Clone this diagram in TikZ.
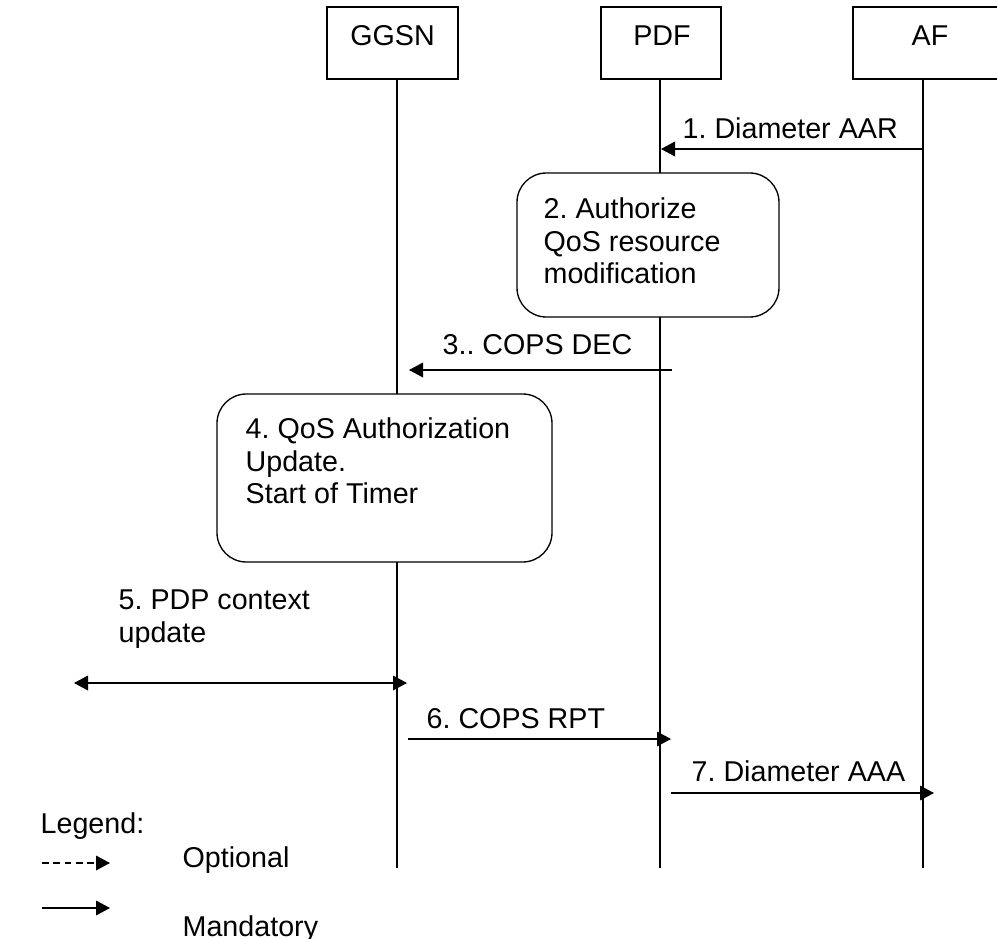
\documentclass[tikz,border=0pt]{standalone}
\usepackage{fontspec}
\setmainfont{Liberation Sans}
\usetikzlibrary{arrows.meta}
\begin{document}
\frenchspacing
\begin{tikzpicture}[x=0.75pt,y=-0.75pt,
  font=\fontsize{21.5pt}{24.5pt}\selectfont\frenchspacing,
  line width=1pt,
  entbox/.style={draw, rectangle, fill=white, inner sep=0pt, minimum height=54pt},
  procbox/.style={draw, rectangle, rounded corners=22pt, fill=white, inner sep=0pt},
  txt/.style={inner sep=0pt, align=left},
  msg/.style={-{Triangle[length=10.5pt,width=11pt]}},
  bimsg/.style={{Triangle[length=10.5pt,width=11pt]}-{Triangle[length=10.5pt,width=11pt]}},
  optmsg/.style={dash pattern=on 5pt off 3.5pt},
  lifeline/.style={draw}
]
\useasboundingbox (0,0) rectangle (997,939);
\clip (0,0) rectangle (997,939);

% lifeline end points
\coordinate (gtop) at (397,79);
\coordinate (gbot) at (397,868);
\coordinate (ptop) at (660,79);
\coordinate (pbot) at (660,868);
\coordinate (atop) at (923,79);
\coordinate (abot) at (923,868);

\draw[lifeline] (gtop) -- (gbot);
\draw[lifeline] (ptop) -- (pbot);
\draw[lifeline] (atop) -- (abot);

% entities
\node[entbox, minimum width=98.25pt] (ggsn) at (392.5,43) {};
\node[entbox, minimum width=90pt] (pdf) at (661,43) {};
\node[entbox, minimum width=115.5pt] (af) at (930,43) {};
\node[txt, anchor=base] (ggsnl) at (392.5,45) {GGSN};
\node[txt, anchor=base] (pdfl) at (662,45) {PDF};
\node[txt, anchor=base] (afl) at (930,45) {AF};

% process boxes
\node[procbox, minimum width=196.5pt, minimum height=108pt] (auth) at (648,245) {};
\node[txt, anchor=north west] (authl) at (543,197) {2. Authorize\\QoS resource\\modification};
\node[procbox, minimum width=251.25pt, minimum height=126pt] (upd) at (384.5,478) {};
\node[txt, anchor=north west] (updl) at (245,417) {4. QoS Authorization\\Update.\\Start of Timer};

% message end points
\coordinate (m1a) at (923,149); \coordinate (m1b) at (661,149);
\coordinate (m3a) at (672,370); \coordinate (m3b) at (409,370);
\coordinate (m5a) at (74,683);  \coordinate (m5b) at (407,683);
\coordinate (m6a) at (408,739); \coordinate (m6b) at (671,739);
\coordinate (m7a) at (671,793); \coordinate (m7b) at (934,793);

\draw[msg] (m1a) -- (m1b);
\draw[msg] (m3a) -- (m3b);
\draw[bimsg] (m5a) -- (m5b);
\draw[msg] (m6a) -- (m6b);
\draw[msg] (m7a) -- (m7b);

\node[txt, anchor=base west] (l1) at (682,138) {1. Diameter AAR};
\node[txt, anchor=base west] (l3) at (442,354) {3.. COPS DEC};
\node[txt, anchor=north west] (l5) at (118,589) {5. PDP context\\update};
\node[txt, anchor=base west] (l6) at (426,728) {6. COPS RPT};
\node[txt, anchor=base west] (l7) at (691,781) {7. Diameter AAA};

% legend
\node[txt, anchor=base west] (leg) at (40,833) {Legend:};
\coordinate (o1) at (42,863); \coordinate (o0) at (96,863); \coordinate (o2) at (110,863);
\coordinate (s1) at (42,908); \coordinate (s2) at (110,908);
\draw[optmsg] (o1) -- (o0);
\draw[msg] (o0) -- (o2);
\draw[msg] (s1) -- (s2);
\node[txt, anchor=base west] (optl) at (182,867) {Optional};
\node[txt, anchor=base west] (manl) at (182,936) {Mandatory};
\end{tikzpicture}
\end{document}
